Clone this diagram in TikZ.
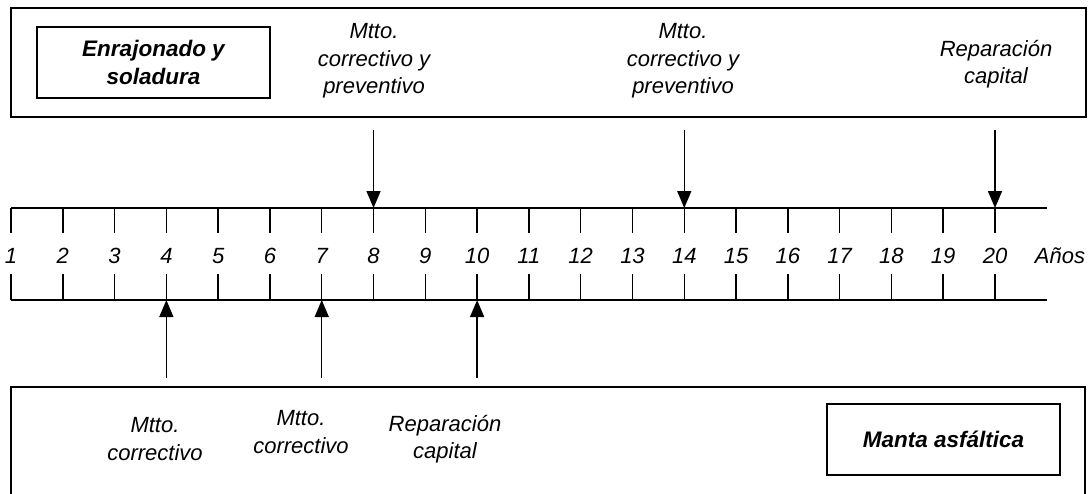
\documentclass[tikz,border=0pt]{standalone}
\usepackage{fontspec}
\setmainfont{Liberation Sans}
\usepackage{tikz}
\usetikzlibrary{arrows.meta,positioning,calc}

\tikzset{
  caja/.style={draw,line width=1.6pt,minimum width=233pt,minimum height=71pt,
    font=\bfseries\itshape\fontsize{22.5}{28.5}\selectfont,align=center},
  nota/.style={align=center,font=\itshape\fontsize{22}{27.5}\selectfont},
  flecha/.style={line width=1.5pt,-{Triangle[length=17pt,width=14pt]}},
}

\begin{document}
\begin{tikzpicture}[x=1pt,y=-1pt,line width=1.5pt]
\useasboundingbox (0,0) rectangle (1090,493);
% marcos
\draw (11,8) rectangle (1086,117);
\draw (11,500) |- (1085,387) -- (1085,500);
\node[caja] (enraj) at (153.5,62.5) {Enrajonado y\\soladura};
\node[caja] (manta) at (943.5,439.5) {Manta asf\'altica};
% eje de tiempo
\draw (11,208) -- (1047,208);
\draw (11,300) -- (1047,300);
\foreach \i in {1,...,20} {
  \pgfmathsetmacro\xx{11+(\i-1)*51.79}
  \coordinate (t\i) at (\xx,208);
  \coordinate (b\i) at (\xx,300);
  \draw (t\i) -- ++(0,25);
  \draw (b\i) -- ++(0,-26);
  \node[nota] (n\i) at (\xx,256) {\i};
}
\node[nota] (anos) at (1060,256) {A\~nos};
% actividades arriba
\node[nota] (m8) at (374,61) {Mtto.\\correctivo y\\preventivo};
\node[nota] (m14) at (683,61) {Mtto.\\correctivo y\\preventivo};
\node[nota] (r20) at (996,64) {Reparaci\'on\\capital};
\foreach \i in {8,14,20} {
  \coordinate (a\i) at ($(t\i)+(0,-78)$);
  \draw[flecha] (a\i) -- (t\i);
}
% actividades abajo
\node[nota] (m4) at (155,439) {Mtto.\\correctivo};
\node[nota] (m7) at (301,432) {Mtto.\\correctivo};
\node[nota] (r10) at (445,439) {Reparaci\'on\\capital};
\foreach \i in {4,7,10} {
  \coordinate (c\i) at ($(b\i)+(0,78)$);
  \draw[flecha] (c\i) -- (b\i);
}
\end{tikzpicture}
\end{document}
